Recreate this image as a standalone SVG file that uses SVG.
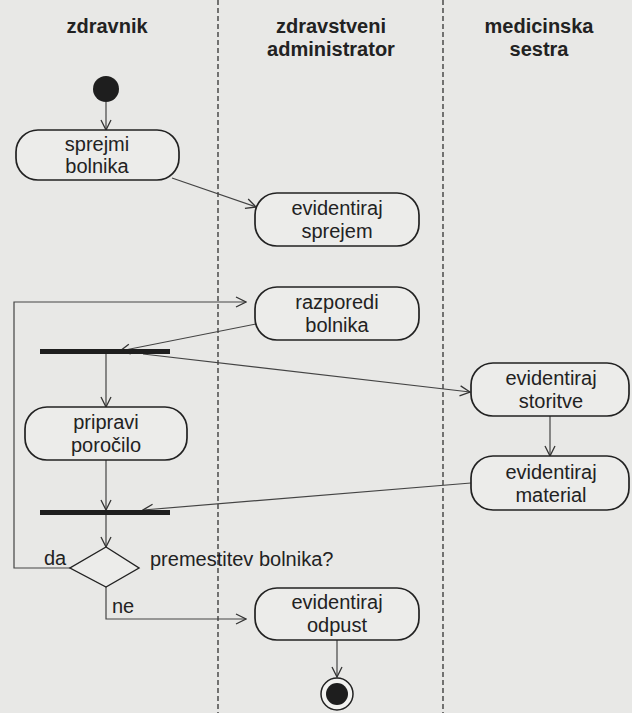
<svg xmlns="http://www.w3.org/2000/svg" width="632" height="713" viewBox="0 0 632 713">
<defs>
<marker id="arr" viewBox="0 0 12 12" refX="11" refY="6" markerWidth="12" markerHeight="12" markerUnits="userSpaceOnUse" orient="auto">
<path d="M1,1 L11,6 L1,11" fill="none" stroke="#333" stroke-width="1.3"/>
</marker>
<style>
text{font-family:"Liberation Sans",Arial,sans-serif;fill:#222;}
.hdr{font-size:20px;font-weight:bold;text-anchor:middle;}
.lbl{font-size:20px;text-anchor:middle;}
.g{font-size:20px;}
.node{fill:#ececea;stroke:#222;stroke-width:1.7;}
.lane{stroke:#333;stroke-width:1.3;stroke-dasharray:5 3;}
.con{fill:none;stroke:#444;stroke-width:1.2;marker-end:url(#arr);}
.bar{fill:#1e1e1e;}
</style>
</defs>
<rect width="632" height="713" fill="#e8e8e6"/>
<g id="lanes">
<line class="lane" x1="218" y1="0" x2="218" y2="713"/>
<line class="lane" x1="443" y1="0" x2="443" y2="713"/>
<text class="hdr" x="107" y="33">zdravnik</text>
<text class="hdr" x="331" y="33">zdravstveni</text>
<text class="hdr" x="331" y="56">administrator</text>
<text class="hdr" x="539" y="33">medicinska</text>
<text class="hdr" x="539" y="56">sestra</text>
</g>
<g id="connectors">
<line class="con" x1="106" y1="102" x2="106" y2="130"/>
<line class="con" x1="172" y1="178" x2="256" y2="207"/>
<polyline class="con" points="70,568 14,568 14,302 246,302"/>
<line class="con" x1="256" y1="324" x2="120" y2="351"/>
<line class="con" x1="143" y1="354" x2="470" y2="392"/>
<line class="con" x1="106" y1="354" x2="106" y2="407"/>
<line class="con" x1="550" y1="416" x2="550" y2="456"/>
<line class="con" x1="471" y1="483" x2="143" y2="510"/>
<line class="con" x1="106" y1="460" x2="106" y2="510"/>
<line class="con" x1="106" y1="515" x2="106" y2="547"/>
<polyline class="con" points="106,587 106,619 246,619"/>
<line class="con" x1="337" y1="640" x2="337" y2="677"/>
</g>
<g id="start"><circle cx="106" cy="89" r="13" fill="#1e1e1e"/></g>
<g id="sprejmi-bolnika">
<rect class="node" x="16" y="130" width="163" height="50" rx="22"/>
<text class="lbl" x="97" y="151">sprejmi</text>
<text class="lbl" x="97" y="173">bolnika</text>
</g>
<g id="evidentiraj-sprejem">
<rect class="node" x="255" y="193" width="164" height="53" rx="22"/>
<text class="lbl" x="337" y="215">evidentiraj</text>
<text class="lbl" x="337" y="238">sprejem</text>
</g>
<g id="razporedi-bolnika">
<rect class="node" x="255" y="287" width="164" height="53" rx="22"/>
<text class="lbl" x="337" y="309">razporedi</text>
<text class="lbl" x="337" y="332">bolnika</text>
</g>
<g id="fork"><rect class="bar" x="40" y="349" width="130" height="5"/></g>
<g id="evidentiraj-storitve">
<rect class="node" x="471" y="363" width="158" height="53" rx="22"/>
<text class="lbl" x="551" y="385">evidentiraj</text>
<text class="lbl" x="551" y="408">storitve</text>
</g>
<g id="pripravi-porocilo">
<rect class="node" x="25" y="407" width="162" height="53" rx="22"/>
<text class="lbl" x="106" y="429">pripravi</text>
<text class="lbl" x="106" y="452">poročilo</text>
</g>
<g id="evidentiraj-material">
<rect class="node" x="471" y="456" width="158" height="54" rx="22"/>
<text class="lbl" x="551" y="479">evidentiraj</text>
<text class="lbl" x="551" y="502">material</text>
</g>
<g id="join"><rect class="bar" x="40" y="510" width="130" height="5"/></g>
<g id="decision">
<polygon points="106,547 139,568 106,587 70,568" fill="#ececea" stroke="#222" stroke-width="1.4"/>
<text class="g" x="44" y="565">da</text>
<text class="g" x="150" y="566">premestitev bolnika?</text>
<text class="g" x="112" y="613">ne</text>
</g>
<g id="evidentiraj-odpust">
<rect class="node" x="255" y="588" width="164" height="52" rx="22"/>
<text class="lbl" x="337" y="609">evidentiraj</text>
<text class="lbl" x="337" y="632">odpust</text>
</g>
<g id="end">
<circle cx="337" cy="694" r="16" fill="#f2f2f0" stroke="#222" stroke-width="1.5"/>
<circle cx="337" cy="694" r="11" fill="#1e1e1e"/>
</g>
</svg>
